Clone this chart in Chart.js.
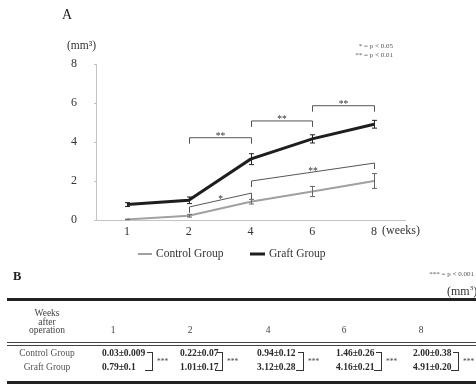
<!DOCTYPE html>
<html><head><meta charset="utf-8">
<script src="https://cdn.jsdelivr.net/npm/chart.js@4"></script>
<style>
html,body{margin:0;padding:0;background:#fff;overflow:hidden;}
#wrap{position:relative;width:476px;height:385px;overflow:hidden;font-family:"Liberation Serif","Times New Roman",serif;color:#333;}
#c{position:absolute;left:0;top:0;}
.t{position:absolute;white-space:nowrap;line-height:1;}
.hl{position:absolute;background:#2a2a2a;}
</style></head>
<body><div id="wrap"><canvas id="c" width="476" height="270"></canvas><div id="tbl"></div></div>
<script>
// ---- data ----
const weeks = ['1', '2', '4', '6', '8'];
const controlMean = [0.03, 0.22, 0.94, 1.46, 2.00];
const controlSD = [0.009, 0.07, 0.12, 0.26, 0.38];
const graftMean = [0.79, 1.01, 3.12, 4.16, 4.91];
const graftSD = [0.1, 0.17, 0.28, 0.21, 0.20];
const yTicks = [0, 2, 4, 6, 8];
const seriesNames = ['Control Group', 'Graft Group'];
// significance brackets (category index from/to, value at each end, label)
const bracketFrom = [1, 2, 3, 1, 2];
const bracketTo = [2, 3, 4, 2, 4];
const bracketValFrom = [4.22, 5.08, 5.86, 0.67, 2.00];
const bracketValTo = [4.22, 5.08, 5.86, 1.38, 2.92];
const bracketLabel = ['**', '**', '**', '*', '**'];
// table text
const controlText = ['0.03±0.009', '0.22±0.07', '0.94±0.12', '1.46±0.26', '2.00±0.38'];
const graftText = ['0.79±0.1', '1.01±0.17', '3.12±0.28', '4.16±0.21', '4.91±0.20'];
const tableSig = ['***', '***', '***', '***', '***'];

const SERIF = '"Liberation Serif","Times New Roman",serif';
const COL_CONTROL = '#a0a0a0', COL_GRAFT = '#1e1e1e';

const annot = {
  id: 'annot',
  afterDatasetsDraw(chart) {
    const {ctx, scales: {x, y}} = chart;
    ctx.save();
    // error bars
    [[controlMean, controlSD, '#666'], [graftMean, graftSD, '#222']].forEach(([m, s, col]) => {
      ctx.strokeStyle = col; ctx.lineWidth = 1;
      m.forEach((v, i) => {
        const px = Math.round(x.getPixelForValue(i)) + 0.5;
        const yt = y.getPixelForValue(v + s[i]), yb = y.getPixelForValue(v - s[i]);
        ctx.beginPath();
        ctx.moveTo(px, yt); ctx.lineTo(px, yb);
        ctx.moveTo(px - 2.5, yt); ctx.lineTo(px + 2.5, yt);
        ctx.moveTo(px - 2.5, yb); ctx.lineTo(px + 2.5, yb);
        ctx.stroke();
      });
    });
    // brackets
    ctx.strokeStyle = '#555'; ctx.lineWidth = 1; ctx.fillStyle = '#333';
    ctx.font = '9.5px ' + SERIF; ctx.textAlign = 'center'; ctx.textBaseline = 'alphabetic';
    bracketFrom.forEach((f, k) => {
      const x1 = Math.round(x.getPixelForValue(f)) + 0.5, x2 = Math.round(x.getPixelForValue(bracketTo[k])) + 0.5;
      const y1 = y.getPixelForValue(bracketValFrom[k]), y2 = y.getPixelForValue(bracketValTo[k]);
      ctx.beginPath();
      ctx.moveTo(x1, y1 + 6); ctx.lineTo(x1, y1); ctx.lineTo(x2, y2); ctx.lineTo(x2, y2 + 6);
      ctx.stroke();
      ctx.fillText(bracketLabel[k], (x1 + x2) / 2, (y1 + y2) / 2 + 1.5);
    });
    ctx.restore();
  },
  afterDraw(chart) {
    const {ctx} = chart;
    ctx.save();
    ctx.fillStyle = '#222'; ctx.textBaseline = 'middle'; ctx.textAlign = 'left';
    ctx.font = '14px ' + SERIF; ctx.fillText('A', 62, 15);
    ctx.fillStyle = '#333';
    ctx.font = '11.5px ' + SERIF; ctx.fillText('(mm³)', 67, 46);
    ctx.font = '12px ' + SERIF; ctx.textAlign = 'center'; ctx.fillText('(weeks)', 401, 231);
    ctx.font = '7px ' + SERIF; ctx.textAlign = 'right'; ctx.fillStyle = '#555';
    ctx.fillText('* = p < 0.05', 393, 46);
    ctx.fillText('** = p < 0.01', 393, 55);
    // legend
    const items = [[138, 152, 156], [250, 265, 269]];
    ctx.textAlign = 'left'; ctx.font = '11.5px ' + SERIF; ctx.fillStyle = '#333';
    chart.data.datasets.forEach((ds, i) => {
      const [a, b, tx] = items[i];
      ctx.strokeStyle = ds.borderColor; ctx.lineWidth = ds.borderWidth;
      ctx.beginPath(); ctx.moveTo(a, 254); ctx.lineTo(b, 254); ctx.stroke();
      ctx.fillText(ds.label, tx, 254);
    });
    ctx.restore();
  }
};

new Chart(document.getElementById('c'), {
  type: 'line',
  data: {
    labels: weeks,
    datasets: [
      {label: seriesNames[0], data: controlMean, borderColor: COL_CONTROL, borderWidth: 2, pointRadius: 0, tension: 0},
      {label: seriesNames[1], data: graftMean, borderColor: COL_GRAFT, borderWidth: 3, pointRadius: 0, tension: 0}
    ]
  },
  options: {
    responsive: false, animation: false, devicePixelRatio: 1,
    layout: {padding: {left: 0, right: 71, top: 64, bottom: 0}},
    plugins: {legend: {display: false}, tooltip: {enabled: false}},
    scales: {
      x: {
        type: 'category', offset: true,
        grid: {display: true, drawOnChartArea: false, drawTicks: false},
        border: {color: '#c4c4c4', width: 1},
        ticks: {padding: 5, color: '#333', font: {family: SERIF, size: 12}},
        afterFit(s) { s.height = 50; }
      },
      y: {
        min: 0, max: 8,
        afterBuildTicks(s) { s.ticks = yTicks.map(v => ({value: v})); },
        grid: {display: true, drawOnChartArea: false, drawTicks: true, tickLength: 2, color: '#c4c4c4'},
        border: {color: '#c4c4c4', width: 1},
        ticks: {padding: 17, color: '#333', font: {family: SERIF, size: 12}},
        afterFit(s) { s.width = 96; }
      }
    }
  },
  plugins: [annot]
});

// ---- table B ----
const tbl = document.getElementById('tbl');
function txt(s, x, y, o = {}) {
  const d = document.createElement('div');
  d.className = 't';
  d.textContent = s;
  d.style.left = x + 'px'; d.style.top = y + 'px';
  d.style.fontSize = (o.size || 9.5) + 'px';
  if (o.bold) d.style.fontWeight = 'bold';
  d.style.color = o.color || '#333';
  const tx = o.align === 'center' ? '-50%' : (o.align === 'right' ? '-100%' : '0');
  d.style.transform = `translate(${tx},-50%)`;
  tbl.appendChild(d);
  return d;
}
function line(x, y, w, h, col) {
  const d = document.createElement('div');
  d.className = 'hl';
  d.style.left = x + 'px'; d.style.top = y + 'px'; d.style.width = w + 'px'; d.style.height = h + 'px';
  if (col) d.style.background = col;
  tbl.appendChild(d);
}
txt('B', 13, 276, {size: 12.5, bold: true, color: '#222'});
txt('*** = p < 0.001', 474, 274, {size: 7, align: 'right', color: '#555'});
const mm = txt('(mm', 447, 291, {size: 12});
mm.innerHTML = '(mm<sup style="font-size:7px;vertical-align:5px">3</sup>)';
line(7, 298, 469, 3, '#222');
txt('Weeks', 47, 314, {size: 9.5, align: 'center', color: '#444'});
txt('after', 47, 322.5, {size: 9.5, align: 'center', color: '#444'});
txt('operation', 47, 331, {size: 9.5, align: 'center', color: '#444'});
line(7, 342, 469, 1, '#444');
line(7, 344.5, 469, 1, '#444');
txt(seriesNames[0], 47, 354, {size: 9.5, align: 'center', color: '#555'});
txt(seriesNames[1], 47, 368, {size: 9.5, align: 'center', color: '#555'});
const colNum = [113, 190, 268, 344, 421];
const colVal = [102, 180, 257, 336, 413];
const colBr = [152, 222, 303, 381, 458];
weeks.forEach((w, i) => {
  txt(w, colNum[i], 331, {size: 9.5, align: 'center', color: '#444'});
  txt(controlText[i], colVal[i], 354, {size: 9.5, bold: true, color: '#2a2a2a'});
  txt(graftText[i], colVal[i], 368, {size: 9.5, bold: true, color: '#2a2a2a'});
  const bx = colBr[i];
  line(bx, 352, 1, 19, '#333');
  line(bx - 5, 352, 5, 1, '#333');
  line(bx - 7, 370, 7, 1, '#333');
  txt(tableSig[i], bx + 5, 362, {size: 7.5, color: '#444'});
});
line(7, 381, 469, 3, '#222');
</script>
</body></html>
